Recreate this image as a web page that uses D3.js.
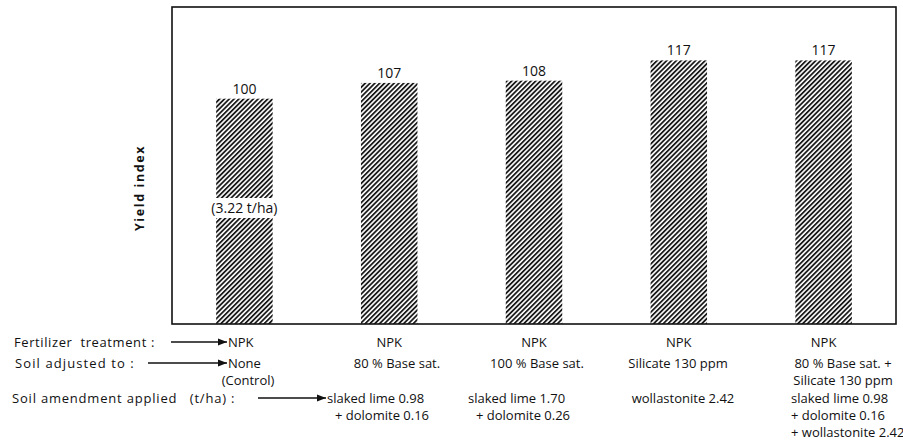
<!DOCTYPE html>
<html><head><meta charset="utf-8">
<script src="https://cdn.jsdelivr.net/npm/d3@7"></script>
<style>body{margin:0;background:#fff}svg{display:block}text{font-family:"Open Sans","DejaVu Sans",sans-serif;fill:#111;white-space:pre}</style>
</head><body>
<script>
const categories = ["Control","80% Base sat.","100% Base sat.","Silicate 130 ppm","80% Base sat. + Silicate"];
const values = [100,107,108,117,117];
const valueLabels = ["100","107","108","117","117"];
const fertilizer = ["NPK","NPK","NPK","NPK","NPK"];
const soilAdjusted = [["None","(Control)"],["80 % Base sat."],["100 % Base sat."],["Silicate 130 ppm"],["80 % Base sat. +","Silicate 130 ppm"]];
const amendments = [[],["slaked lime 0.98","+ dolomite 0.16"],["slaked lime 1.70","+ dolomite 0.26"],["wollastonite 2.42"],["slaked lime 0.98","+ dolomite 0.16","+ wollastonite 2.42"]];
const rowLabels = ["Fertilizer  treatment :","Soil adjusted to :","Soil amendment applied   (t/ha) :"];
const controlYield = "(3.22 t/ha)";
const yTitle = "Yield index";

const W=903,H=442;
const svg=d3.select("body").append("svg").attr("width",W).attr("height",H);
const L=172,R=896,T=7,B=324;
const FS=14, FB=13;
const x=d3.scaleBand().domain(categories).range([L,R]).paddingInner(0.61).paddingOuter(0.305);
const y=d3.scaleLinear().domain([0,140.7]).range([B,T]);

const defs=svg.append("defs");
const pat=defs.append("pattern").attr("id","hatch").attr("patternUnits","userSpaceOnUse")
  .attr("width",3.4).attr("height",10).attr("patternTransform","rotate(45)");
pat.append("rect").attr("x",0).attr("y",0).attr("width",1.8).attr("height",10).attr("fill","#1a1a1a");
const mk=defs.append("marker").attr("id","arr").attr("viewBox","0 0 10 10").attr("refX",10).attr("refY",5)
  .attr("markerWidth",10).attr("markerHeight",9).attr("markerUnits","userSpaceOnUse").attr("orient","auto");
mk.append("path").attr("d","M0,1L10,5L0,9Z").attr("fill","#111");

// bars
svg.selectAll("rect.bar").data(values).join("rect").attr("class","bar")
  .attr("x",(d,i)=>x(categories[i])).attr("width",x.bandwidth())
  .attr("y",d=>y(d)).attr("height",d=>B-y(d)).attr("fill","url(#hatch)");

// value labels
svg.selectAll("text.val").data(values).join("text").attr("class","val")
  .attr("x",(d,i)=>x(categories[i])+x.bandwidth()/2).attr("y",d=>y(d)-5)
  .attr("text-anchor","middle").attr("font-size",FS).text((d,i)=>valueLabels[i]);

// control yield label
const cx0=x(categories[0])+x.bandwidth()/2;
const cy=208;
svg.append("rect").attr("x",cx0-43).attr("y",cy-10).attr("width",86).attr("height",20).attr("fill","#fff");
svg.append("text").attr("x",cx0).attr("y",cy+5).attr("text-anchor","middle").attr("font-size",FS).text(controlYield);

// frame
svg.append("rect").attr("x",L).attr("y",T).attr("width",R-L).attr("height",B-T)
  .attr("fill","none").attr("stroke","#111").attr("stroke-width",1.6);

// y title
svg.append("text").attr("transform",`translate(144,188) rotate(-90)`).attr("text-anchor","middle")
  .attr("font-size",12.5).attr("font-weight","bold").attr("font-family","Liberation Sans, Arial, sans-serif").attr("letter-spacing",1.6).text(yTitle);

// rows
const rowY=[347,368,403];
const lineGap=17;
const labX=[14,15,12];
const labSpacing=[0.6,1.1,0.8];
rowLabels.forEach((t,i)=>svg.append("text").attr("x",labX[i]).attr("y",rowY[i]).attr("font-size",FB)
  .attr("letter-spacing",labSpacing[i]).text(t));
const arrows=[[171,227],[148,227],[258,326]];
arrows.forEach((a,i)=>svg.append("line").attr("x1",a[0]).attr("x2",a[1]).attr("y1",rowY[i]-5).attr("y2",rowY[i]-5)
  .attr("stroke","#111").attr("stroke-width",1.4).attr("marker-end","url(#arr)"));

const colX=(i)=>x(categories[i])+x.bandwidth()/2;
// fertilizer row
svg.selectAll("text.fert").data(fertilizer).join("text").attr("class","fert")
  .attr("x",(d,i)=>i===0?228:colX(i)).attr("y",rowY[0]).attr("text-anchor",(d,i)=>i===0?"start":"middle")
  .attr("font-size",FB).text(d=>d);
// soil adjusted
const soilAnchorX=[228,397,537,678,843];
soilAdjusted.forEach((lines,i)=>{
  lines.forEach((t,j)=>{
    let xx=soilAnchorX[i], anchor="middle";
    if(i===0){ if(j===0){anchor="start";} else {xx=248;} }
    svg.append("text").attr("x",xx).attr("y",rowY[1]+j*lineGap).attr("text-anchor",anchor)
      .attr("font-size",FB).text(t);
  });
});
// amendments
const amStartX=[null,327,468,null,791];
amendments.forEach((lines,i)=>{
  lines.forEach((t,j)=>{
    const tx=svg.append("text").attr("y",rowY[2]+j*lineGap).attr("font-size",FB).text(t);
    if(i===3){tx.attr("x",683).attr("text-anchor","middle");}
    else if(j===0 || i===4){tx.attr("x",amStartX[i]);}
    else {tx.attr("x",amStartX[i]+8);}
  });
});
</script>
</body></html>
